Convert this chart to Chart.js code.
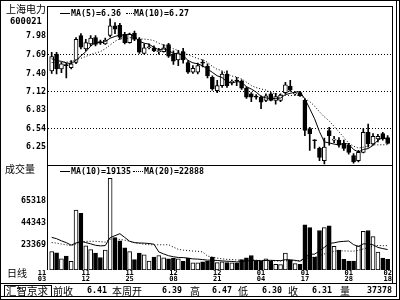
<!DOCTYPE html>
<html>
<head>
<meta charset="utf-8">
<script src="https://cdn.jsdelivr.net/npm/chart.js@4.4.1/dist/chart.umd.min.js"></script>
<style>
  body { margin: 0; background: #fff; }
  #wrap { position: relative; width: 400px; height: 300px; overflow: hidden; background: #fff; }
  #wrap canvas { position: absolute; left: 0; top: 0; }
  .ln { position: absolute; background: #000; }
  .t { position: absolute; white-space: nowrap; color: #000; }
  .cn { font-family: "Noto Sans CJK SC", sans-serif; font-size: 10px; line-height: 12px; }
  .num { font-family: "DejaVu Sans Mono", monospace; font-weight: bold; font-size: 8.3px; line-height: 9px; }
  .dots { position: absolute; height: 0; border-top: 1px dotted #000; }
</style>
</head>
<body>
<div id="wrap">
  <canvas id="kline" width="400" height="300"></canvas>

  <!-- frames -->
  <div class="ln" style="left:0;top:0;width:400px;height:1px"></div>
  <div class="ln" style="left:0;top:299px;width:400px;height:1px"></div>
  <div class="ln" style="left:0;top:0;width:1px;height:300px"></div>
  <div class="ln" style="left:399px;top:0;width:1px;height:300px"></div>
  <div class="ln" style="left:396px;top:0;width:1px;height:297px"></div>
  <div class="ln" style="left:0;top:296px;width:397px;height:1px"></div>
  <div class="ln" style="left:47px;top:6px;width:346px;height:1px"></div>
  <div class="ln" style="left:47px;top:6px;width:1px;height:264px"></div>
  <div class="ln" style="left:392px;top:6px;width:1px;height:277px"></div>
  <div class="ln" style="left:47px;top:165px;width:346px;height:1px"></div>
  <div class="ln" style="left:0;top:283px;width:397px;height:1px"></div>
  <div style="position:absolute;left:4px;top:285px;width:46px;height:10px;border:1px solid #000"></div>

  <!-- headers -->
  <div class="t cn" style="left:6px;top:3px">上海电力</div>
  <div class="t num" style="left:10px;top:17px;font-size:8.8px">600021</div>
  <div class="t cn" style="left:5px;top:163px">成交量</div>
  <div class="t cn" style="left:7px;top:267px">日线</div>

  <!-- price legend -->
  <div class="ln" style="left:60px;top:13px;width:10px;height:1px"></div>
  <div class="t num" style="left:71px;top:9px">MA(5)=6.36</div>
  <div class="dots" style="left:126px;top:13px;width:8px"></div>
  <div class="t num" style="left:134px;top:9px">MA(10)=6.27</div>

  <!-- volume legend -->
  <div class="ln" style="left:60px;top:171px;width:10px;height:1px"></div>
  <div class="t num" style="left:71px;top:167px">MA(10)=19135</div>
  <div class="dots" style="left:133px;top:171px;width:10px"></div>
  <div class="t num" style="left:144px;top:167px">MA(20)=22888</div>

  <!-- info bar -->
  <div class="t cn" style="left:6px;top:285px;font-size:10.5px">汇智京求</div>
  <div class="t cn" style="left:53px;top:285px">前收</div>
  <div class="t num" style="left:87px;top:286px">6.41</div>
  <div class="t cn" style="left:112px;top:285px">本周开</div>
  <div class="t num" style="left:162px;top:286px">6.39</div>
  <div class="t cn" style="left:190px;top:285px">高</div>
  <div class="t num" style="left:212px;top:286px">6.47</div>
  <div class="t cn" style="left:238px;top:285px">低</div>
  <div class="t num" style="left:262px;top:286px">6.30</div>
  <div class="t cn" style="left:288px;top:285px">收</div>
  <div class="t num" style="left:312px;top:286px">6.31</div>
  <div class="t cn" style="left:340px;top:285px">量</div>
  <div class="t num" style="left:367px;top:286px">37378</div>
</div>

<script>
// daily bars, oldest first
const opens = [
  7.44, 7.70, 7.47, 7.53, 7.49, 7.57, 7.99, 7.78, 7.86, 7.96,
  7.89, 7.86, 7.99, 8.14, 8.15, 8.01, 7.88, 8.03, 7.93, 7.71,
  7.80, 7.80, 7.74, 7.74, 7.85, 7.70, 7.61, 7.74, 7.57, 7.42,
  7.42, 7.57, 7.51, 7.34, 7.13, 7.21, 7.39, 7.26, 7.29, 7.28,
  7.17, 7.08, 7.04, 7.03, 6.98, 7.08, 6.98, 6.98, 7.10, 7.20,
  7.08, 7.10, 6.98, 6.54, 6.36, 6.23, 6.04, 6.51, 6.36, 6.36,
  6.31, 6.28, 6.12, 6.04, 6.17, 6.48, 6.30, 6.38, 6.46, 6.40
];
const highs = [
  7.73, 7.73, 7.57, 7.56, 7.60, 7.96, 8.02, 7.93, 7.99, 7.99,
  7.92, 7.95, 8.25, 8.19, 8.18, 8.04, 8.03, 8.06, 7.96, 7.86,
  7.86, 7.83, 7.79, 7.85, 7.87, 7.75, 7.76, 7.79, 7.60, 7.52,
  7.56, 7.61, 7.55, 7.36, 7.29, 7.43, 7.44, 7.30, 7.34, 7.30,
  7.19, 7.10, 7.07, 7.05, 7.08, 7.10, 7.09, 7.08, 7.26, 7.29,
  7.11, 7.12, 7.00, 6.56, 6.37, 6.25, 6.39, 6.56, 6.42, 6.40,
  6.36, 6.31, 6.15, 6.20, 6.54, 6.61, 6.46, 6.45, 6.48, 6.43
];
const lows = [
  7.40, 7.39, 7.41, 7.33, 7.47, 7.55, 7.78, 7.75, 7.83, 7.83,
  7.85, 7.85, 7.97, 8.02, 7.93, 7.86, 7.87, 7.91, 7.71, 7.70,
  7.78, 7.74, 7.70, 7.73, 7.65, 7.54, 7.52, 7.56, 7.40, 7.40,
  7.39, 7.50, 7.33, 7.14, 7.10, 7.18, 7.18, 7.22, 7.21, 7.15,
  7.01, 6.96, 7.00, 6.85, 6.96, 6.97, 6.92, 6.96, 7.08, 7.12,
  7.06, 7.04, 6.43, 6.20, 6.23, 6.04, 5.99, 6.28, 6.32, 6.25,
  6.20, 6.14, 6.00, 6.02, 6.16, 6.25, 6.28, 6.33, 6.36, 6.30
];
const closes = [
  7.66, 7.47, 7.55, 7.52, 7.55, 7.93, 7.81, 7.88, 7.95, 7.85,
  7.88, 7.92, 8.14, 8.09, 7.96, 7.88, 8.01, 7.93, 7.73, 7.80,
  7.81, 7.75, 7.75, 7.80, 7.67, 7.59, 7.72, 7.61, 7.42, 7.48,
  7.52, 7.56, 7.36, 7.16, 7.21, 7.39, 7.21, 7.27, 7.28, 7.17,
  7.03, 7.03, 7.03, 6.95, 7.05, 6.98, 7.04, 7.06, 7.22, 7.14,
  7.09, 7.05, 6.51, 6.46, 6.35, 6.09, 6.25, 6.43, 6.37, 6.28,
  6.23, 6.17, 6.02, 6.17, 6.48, 6.30, 6.42, 6.42, 6.38, 6.31
];
const volumes = [
  17240, 16050, 10580, 13040, 8120, 56180, 53170, 22710, 19060, 15780,
  11760, 18790, 86000, 30370, 27270, 20880, 17240, 9670, 15780, 14230,
  8480, 12130, 13590, 11490, 10580, 11220, 10580, 8120, 11220, 6660,
  6660, 7570, 8120, 12130, 6930, 7570, 6930, 6660, 6660, 9670,
  11490, 13590, 8480, 8480, 10580, 8120, 5380, 5110, 15780, 9030,
  6020, 5380, 42310, 39850, 12130, 37110, 39850, 41400, 22160, 18790,
  9940, 8480, 8480, 22710, 36200, 37110, 31270, 16780, 11220, 9940
];
// sessions before the first visible bar, estimated from where the MA lines start
const earlierCloses = [7.48, 7.50, 7.49, 7.51, 7.58, 7.62, 7.60, 7.64, 7.62];
const earlierVolumes = [27000, 28000, 27500, 27290, 18000, 16000, 15000, 17000, 16210, 18000,
                        28000, 31000, 30000, 31290, 36000, 38000, 34000, 31000, 29470];

const dateTickIndex = [-2, 7, 16, 25, 34, 43, 52, 61, 69];
const dateTickLabels = [["11","03"],["11","12"],["11","25"],["12","08"],["12","21"],
                        ["01","04"],["01","17"],["01","28"],["02","18"]];
const priceTicks = [7.98, 7.69, 7.40, 7.12, 6.83, 6.54, 6.25];
const priceGridTicks = [7.69, 7.12, 6.54];
const volumeTicks = [23369, 44343, 65318];

function movingAverage(values, earlier, n) {
  const all = earlier.concat(values);
  return values.map((_, i) => {
    const end = earlier.length + i + 1;
    return all.slice(end - n, end).reduce((a, b) => a + b, 0) / n;
  });
}

const up = closes.map((c, i) => c >= opens[i]);
const fills = up.map(u => u ? "#fff" : "#000");
const pts = arr => arr.map((v, i) => ({ x: i, y: v }));

const ma5 = movingAverage(closes, earlierCloses, 5);
const ma10 = movingAverage(closes, earlierCloses, 10);
const vma10 = movingAverage(volumes, earlierVolumes, 10);
const vma20 = movingAverage(volumes, earlierVolumes, 20);

const monoFont = { family: "DejaVu Sans Mono", size: 8.3, weight: "bold" };

new Chart(document.getElementById("kline"), {
  type: "bar",
  data: {
    datasets: [
      {
        type: "line", data: pts(ma5), xAxisID: "x", yAxisID: "yP",
        borderColor: "#000", borderWidth: 1, pointRadius: 0, order: 1
      },
      {
        type: "line", data: pts(ma10), xAxisID: "x", yAxisID: "yP",
        borderColor: "#000", borderWidth: 1, borderDash: [1, 2], pointRadius: 0, order: 2
      },
      {
        data: opens.map((o, i) => ({ x: i, y: [o, closes[i]] })), xAxisID: "x", yAxisID: "yP",
        backgroundColor: fills, borderColor: "#000", borderWidth: 1, borderSkipped: false,
        barThickness: 4, minBarLength: 1, grouped: false, order: 4
      },
      {
        data: lows.map((l, i) => ({ x: i, y: [l, highs[i]] })), xAxisID: "x", yAxisID: "yP",
        backgroundColor: "#000", borderWidth: 0, barThickness: 1, grouped: false, order: 5
      },
      {
        type: "line", data: pts(vma10), xAxisID: "x", yAxisID: "yV",
        borderColor: "#000", borderWidth: 1, pointRadius: 0, order: 1
      },
      {
        type: "line", data: pts(vma20), xAxisID: "x", yAxisID: "yV",
        borderColor: "#000", borderWidth: 1, borderDash: [1, 2], pointRadius: 0, order: 2
      },
      {
        data: pts(volumes), xAxisID: "x", yAxisID: "yV",
        backgroundColor: fills, borderColor: "#000", borderWidth: 1, borderSkipped: false,
        barThickness: 4, grouped: false, clip: 0, order: 6
      }
    ]
  },
  options: {
    responsive: false,
    animation: false,
    devicePixelRatio: 1,
    layout: { padding: { top: 6, right: 7, bottom: 17, left: 0 } },
    plugins: { legend: { display: false }, tooltip: { enabled: false } },
    scales: {
      x: {
        type: "linear", min: -0.76, max: 70.1, offset: false, bounds: "data",
        grid: { display: false, drawTicks: false }, border: { display: false },
        afterBuildTicks: s => { s.ticks = dateTickIndex.map(v => ({ value: v })); },
        afterFit: s => { s.height = 13; },
        ticks: {
          autoSkip: false, maxRotation: 0, padding: 0, color: "#000",
          font: { family: "DejaVu Sans Mono", size: 7, weight: "bold", lineHeight: "6px" },
          callback: (v, i) => dateTickLabels[i]
        }
      },
      yV: {
        type: "linear", position: "left", stack: "k", stackWeight: 105,
        min: 0, max: 98200, bounds: "data",
        grid: { display: false, drawTicks: false }, border: { display: false },
        afterBuildTicks: s => { s.ticks = volumeTicks.map(v => ({ value: v })); },
        afterFit: s => { s.width = 48; },
        ticks: { padding: 2, color: "#000", font: monoFont, callback: v => String(v) }
      },
      yP: {
        type: "linear", position: "left", stack: "k", stackWeight: 159,
        min: 5.966, max: 8.435, bounds: "data",
        grid: {
          drawTicks: false, lineWidth: 1,
          color: c => (c.tick && priceGridTicks.includes(c.tick.value)) ? "#000" : "rgba(0,0,0,0)"
        },
        border: { display: false, dash: [1, 2] },
        afterBuildTicks: s => { s.ticks = priceTicks.map(v => ({ value: v })); },
        afterFit: s => { s.width = 48; },
        ticks: { padding: 2, color: "#000", font: monoFont, callback: v => v.toFixed(2) }
      }
    }
  }
});
</script>
</body>
</html>
